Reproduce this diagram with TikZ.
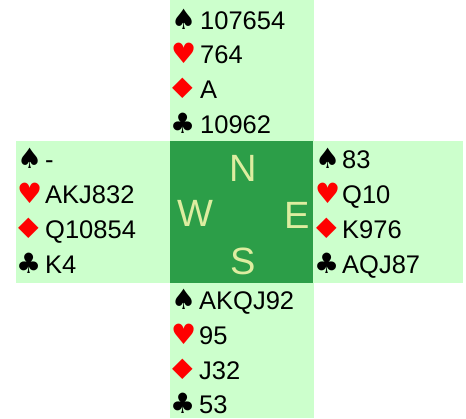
\documentclass[tikz,border=0pt]{standalone}
\usepackage{fontspec}
\setmainfont{Liberation Sans}
\newfontfamily\suitfont{DejaVu Sans}
\definecolor{lightbg}{HTML}{CCFFCC}
\definecolor{centergreen}{HTML}{2C9E48}
\definecolor{compass}{HTML}{DDEDA0}
\definecolor{suitred}{HTML}{FF0000}
\begin{document}
\begin{tikzpicture}[x=1pt,y=-1pt,
  holding/.style={anchor=base west,inner sep=0pt,font=\fontsize{25.5}{25.5}\selectfont},
  suit/.style={anchor=base west,inner sep=0pt,font=\suitfont\fontsize{28}{28}\selectfont},
  redsuit/.style={suit,text=suitred},
  dir/.style={inner sep=0pt,text=compass,font=\fontsize{38}{38}\selectfont}]
\useasboundingbox (0,0) rectangle (466,418);
% backgrounds
\fill[lightbg] (170,0) rectangle (314,141);
\fill[lightbg] (16,141) rectangle (170,283);
\fill[lightbg] (313,141) rectangle (463,283);
\fill[lightbg] (170,283) rectangle (314,418);
\fill[centergreen] (170,141) rectangle (313,283);
% compass
\node[dir] (cn) at (243,168) {N};
\node[dir] (cw) at (195,213) {W};
\node[dir] (ce) at (297,215) {E};
\node[dir] (cs) at (243,261) {S};
% North
\node[suit] (ns) at (171,29) {♠};
\node[holding] (nst) at (200,29) {107654};
\node[redsuit] (nh) at (171,63) {♥};
\node[holding] (nht) at (200,63) {764};
\node[redsuit] (nd) at (166,98) {\scalebox{1.3}[1]{♦}};
\node[holding] (ndt) at (200,98) {A};
\node[suit] (nc) at (170,133) {♣};
\node[holding] (nct) at (200,133) {10962};
% West
\node[suit] (ws) at (17,168) {♠};
\node[holding] (wst) at (45,168) {-};
\node[redsuit] (wh) at (17,203) {♥};
\node[holding] (wht) at (45,203) {AKJ832};
\node[redsuit] (wd) at (12,238) {\scalebox{1.3}[1]{♦}};
\node[holding] (wdt) at (45,238) {Q10854};
\node[suit] (wc) at (16,273) {♣};
\node[holding] (wct) at (45,273) {K4};
% East
\node[suit] (es) at (315,168) {♠};
\node[holding] (est) at (342,168) {83};
\node[redsuit] (eh) at (315,203) {♥};
\node[holding] (eht) at (342,203) {Q10};
\node[redsuit] (ed) at (310,238) {\scalebox{1.3}[1]{♦}};
\node[holding] (edt) at (342,238) {K976};
\node[suit] (ec) at (314,273) {♣};
\node[holding] (ect) at (342,273) {AQJ87};
% South
\node[suit] (ss) at (171,309) {♠};
\node[holding] (sst) at (199,309) {AKQJ92};
\node[redsuit] (sh) at (171,344) {♥};
\node[holding] (sht) at (199,344) {95};
\node[redsuit] (sd) at (166,379) {\scalebox{1.3}[1]{♦}};
\node[holding] (sdt) at (199,379) {J32};
\node[suit] (sc) at (170,413) {♣};
\node[holding] (sct) at (199,413) {53};
\end{tikzpicture}
\end{document}
